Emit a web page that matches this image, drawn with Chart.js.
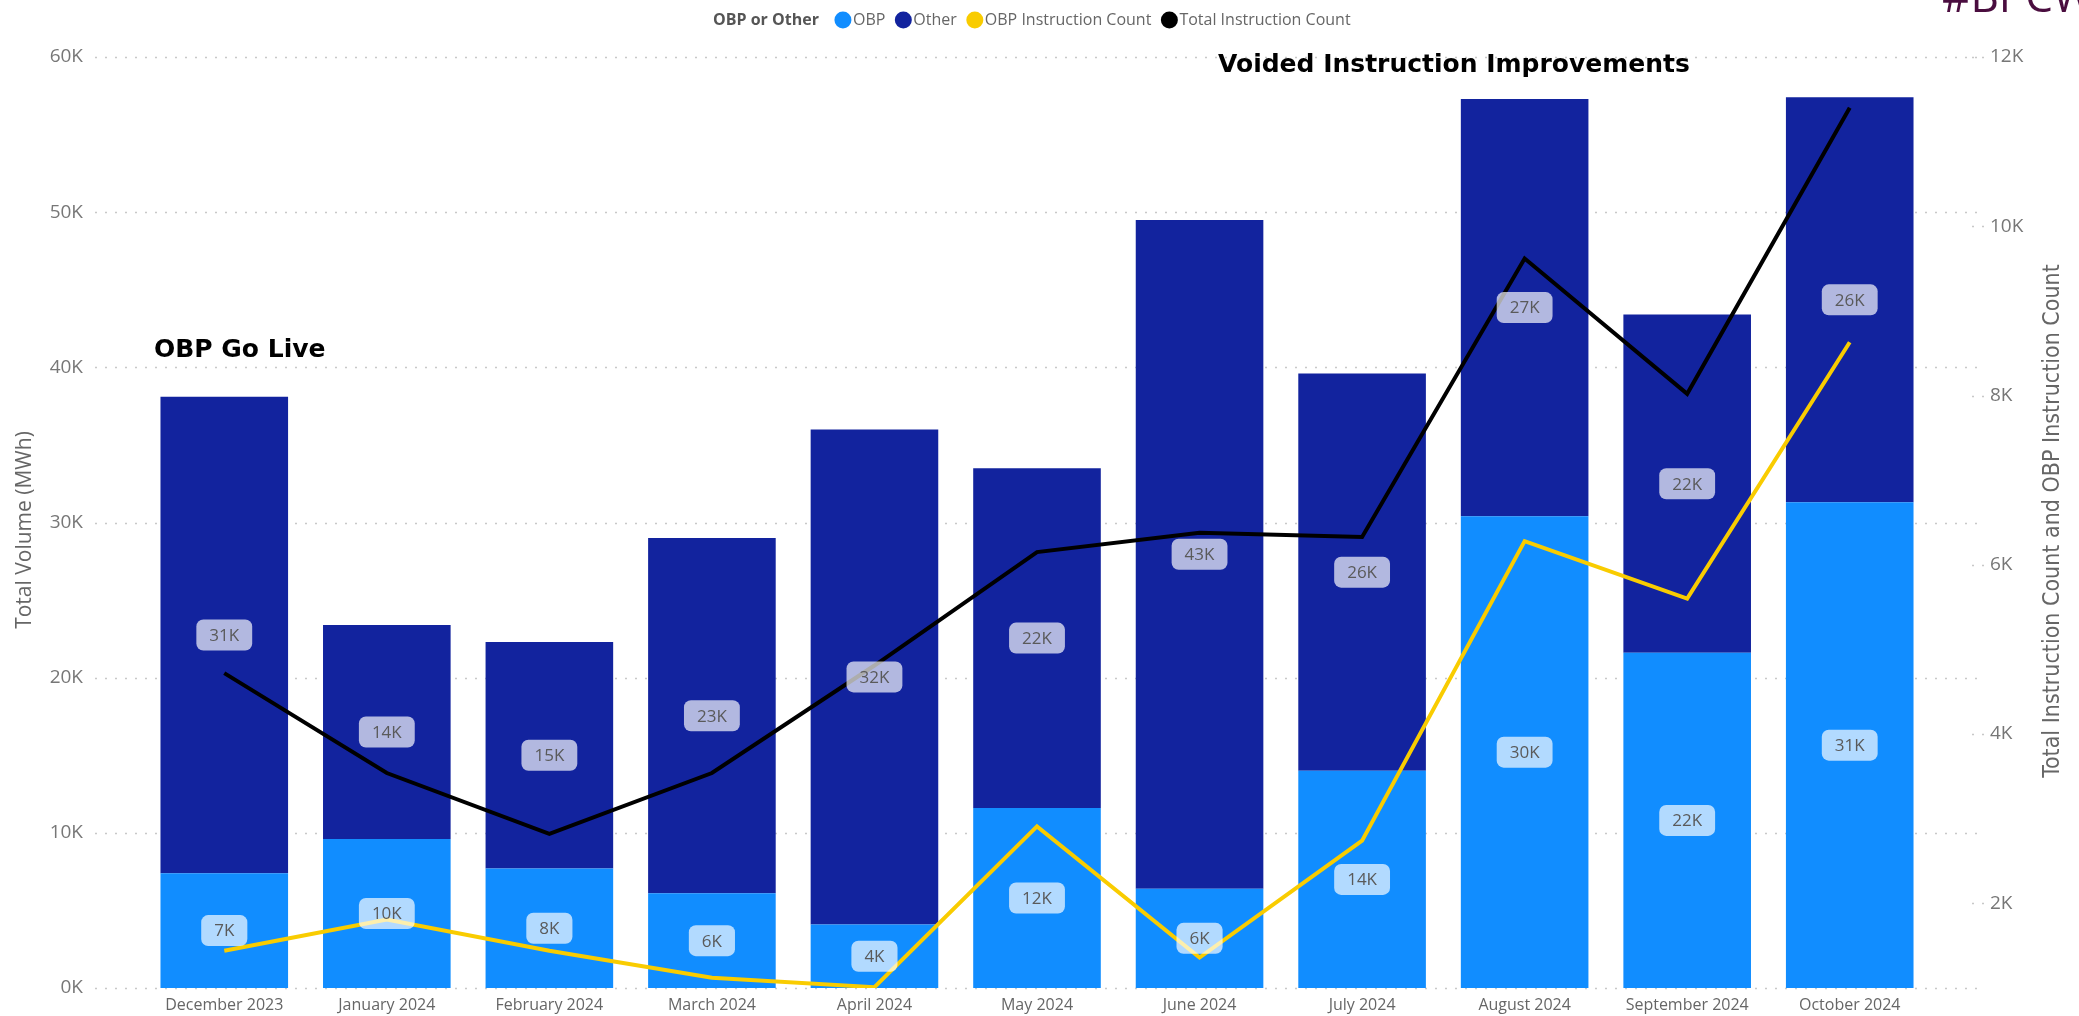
<!DOCTYPE html>
<html>
<head>
<meta charset="utf-8">
<script src="https://cdn.jsdelivr.net/npm/chart.js@4.4.1/dist/chart.umd.min.js"></script>
<style>
  html, body { margin: 0; padding: 0; background: #fff; }
  #wrap { width: 2079px; height: 1016px; position: relative; }
</style>
</head>
<body>
<div id="wrap"><canvas id="chart" width="2079" height="1016"></canvas></div>
<script>
const months = ['December 2023', 'January 2024', 'February 2024', 'March 2024', 'April 2024', 'May 2024',
  'June 2024', 'July 2024', 'August 2024', 'September 2024', 'October 2024']
const obpVolume = [7400, 9600, 7700, 6100, 4100, 11600, 6400, 14000, 30400, 21600, 31300]
const otherVolume = [30700, 13800, 14600, 22900, 31900, 21900, 43100, 25600, 26900, 21800, 26100]
const obpInstructions = [1440, 1810, 1440, 1120, 1010, 2910, 1360, 2740, 6280, 5600, 8630]
const totalInstructions = [4720, 3540, 2820, 3540, 4810, 6150, 6380, 6330, 9620, 8020, 11400]
const volumeTicks = [0, 10000, 20000, 30000, 40000, 50000, 60000]
const countTicks = [2000, 4000, 6000, 8000, 10000, 12000]

const legendTitle = 'OBP or Other'
const leftTitle = 'Total Volume (MWh)'
const rightTitle = 'Total Instruction Count and OBP Instruction Count'
const notes = [
  { text: 'OBP Go Live', x: 154, y: 350 },
  { text: 'Voided Instruction Improvements', x: 1218, y: 65 }
]

const FONT = "'Open Sans', 'Noto Sans', sans-serif"
const kFormat = v => Math.round(v / 1000) + 'K'

const dottedGrid = {
  id: 'dottedGrid',
  beforeDatasetsDraw(chart) {
    const ctx = chart.ctx
    const y = chart.scales.y, y1 = chart.scales.y1
    ctx.save()
    ctx.strokeStyle = '#c8c8c8'
    ctx.lineWidth = 1.5
    ctx.setLineDash([2, 8])
    volumeTicks.forEach(v => {
      const py = Math.round(y.getPixelForValue(v)) + 0.5
      ctx.beginPath(); ctx.moveTo(95, py); ctx.lineTo(1982, py); ctx.stroke()
    })
    countTicks.forEach(v => {
      const py = Math.round(y1.getPixelForValue(v)) + 0.5
      ctx.beginPath(); ctx.moveTo(1972, py); ctx.lineTo(1984, py); ctx.stroke()
    })
    ctx.restore()
  }
}

const barLabels = {
  id: 'barLabels',
  afterDatasetsDraw(chart) {
    const ctx = chart.ctx
    ctx.save()
    ctx.font = '17px ' + FONT
    ctx.textAlign = 'center'
    ctx.textBaseline = 'middle'
    chart.data.datasets.forEach((ds, di) => {
      if (ds.type !== 'bar') return
      chart.getDatasetMeta(di).data.forEach((el, i) => {
        const text = kFormat(ds.data[i])
        const cy = (el.y + el.base) / 2
        const w = ctx.measureText(text).width + 26
        const h = 31
        ctx.fillStyle = 'rgba(255,255,255,0.68)'
        ctx.beginPath()
        ctx.roundRect(el.x - w / 2, cy - h / 2, w, h, 7)
        ctx.fill()
        ctx.fillStyle = '#5a5a5a'
        ctx.fillText(text, el.x, cy + 1)
      })
    })
    ctx.restore()
  }
}

const extras = {
  id: 'extras',
  afterDraw(chart) {
    const ctx = chart.ctx
    ctx.save()
    // legend
    ctx.textBaseline = 'middle'
    ctx.textAlign = 'left'
    let x = 713
    const ly = 20
    ctx.font = 'bold 16px ' + FONT
    ctx.fillStyle = '#555'
    ctx.fillText(legendTitle, x, ly)
    x += ctx.measureText(legendTitle).width + 16
    ctx.font = '16px ' + FONT
    chart.data.datasets.forEach(ds => {
      const col = ds.type === 'bar' ? ds.backgroundColor : ds.borderColor
      ctx.fillStyle = col
      ctx.beginPath(); ctx.arc(x + 8, ly, 8.5, 0, Math.PI * 2); ctx.fill()
      x += 18
      ctx.fillStyle = '#666'
      ctx.fillText(ds.label, x, ly)
      x += ctx.measureText(ds.label).width + 10
    })
    // axis titles
    ctx.fillStyle = '#666'
    ctx.textAlign = 'center'
    ctx.font = '21px ' + FONT
    ctx.save(); ctx.translate(25, 530); ctx.rotate(-Math.PI / 2); ctx.fillText(leftTitle, 0, 0); ctx.restore()
    ctx.font = "23px 'Liberation Sans Narrow', 'DejaVu Sans Condensed', sans-serif"
    ctx.save(); ctx.translate(2053, 521); ctx.rotate(-Math.PI / 2); ctx.fillText(rightTitle, 0, 0); ctx.restore()
    // annotations
    ctx.textAlign = 'left'
    ctx.fillStyle = '#000'
    ctx.font = "bold 25px 'DejaVu Sans', sans-serif"
    notes.forEach(n => ctx.fillText(n.text, n.x, n.y))
    // cropped corner tag
    ctx.fillStyle = '#4a0d3f'
    ctx.font = '44px ' + FONT
    ctx.textBaseline = 'alphabetic'
    ctx.fillText('#BPCW', 1942, 12)
    ctx.restore()
  }
}

new Chart(document.getElementById('chart').getContext('2d'), {
  data: {
    labels: months,
    datasets: [
      { type: 'bar', label: 'OBP', data: obpVolume, backgroundColor: '#118DFF', yAxisID: 'y', order: 2,
        barPercentage: 0.785, categoryPercentage: 1 },
      { type: 'bar', label: 'Other', data: otherVolume, backgroundColor: '#12239E', yAxisID: 'y', order: 2,
        barPercentage: 0.785, categoryPercentage: 1 },
      { type: 'line', label: 'OBP Instruction Count', data: obpInstructions, borderColor: '#F9CC00',
        backgroundColor: '#F9CC00', borderWidth: 4, pointRadius: 0, yAxisID: 'y1', order: 1 },
      { type: 'line', label: 'Total Instruction Count', data: totalInstructions, borderColor: '#000000',
        backgroundColor: '#000000', borderWidth: 4, pointRadius: 0, yAxisID: 'y1', order: 1 }
    ]
  },
  options: {
    responsive: false,
    animation: false,
    devicePixelRatio: 1,
    layout: { padding: { top: 57, left: 0, right: 0, bottom: 0 } },
    plugins: { legend: { display: false }, tooltip: { enabled: false } },
    scales: {
      x: {
        stacked: true,
        grid: { display: false, drawTicks: false },
        border: { display: false },
        ticks: { color: '#666', font: { family: FONT, size: 16 }, padding: 8, maxRotation: 0, autoSkip: false },
        afterFit: s => { s.height = 28 }
      },
      y: {
        stacked: true,
        position: 'left',
        min: 0, max: 60000,
        grid: { display: false, drawTicks: false },
        border: { display: false },
        afterBuildTicks: s => { s.ticks = volumeTicks.map(v => ({ value: v })) },
        ticks: { color: '#777', font: { family: FONT, size: 19 }, padding: 60, callback: v => kFormat(v) },
        afterFit: s => { s.width = 143; s.paddingTop = 0; s.paddingBottom = 0 }
      },
      y1: {
        position: 'right',
        min: 1000, max: 12000,
        grid: { display: false, drawTicks: false },
        border: { display: false },
        afterBuildTicks: s => { s.ticks = countTicks.map(v => ({ value: v })) },
        ticks: { color: '#777', font: { family: FONT, size: 19 }, padding: 59, callback: v => kFormat(v) },
        afterFit: s => { s.width = 148; s.paddingTop = 0; s.paddingBottom = 0 }
      }
    }
  },
  plugins: [dottedGrid, barLabels, extras]
})
</script>
</body>
</html>
